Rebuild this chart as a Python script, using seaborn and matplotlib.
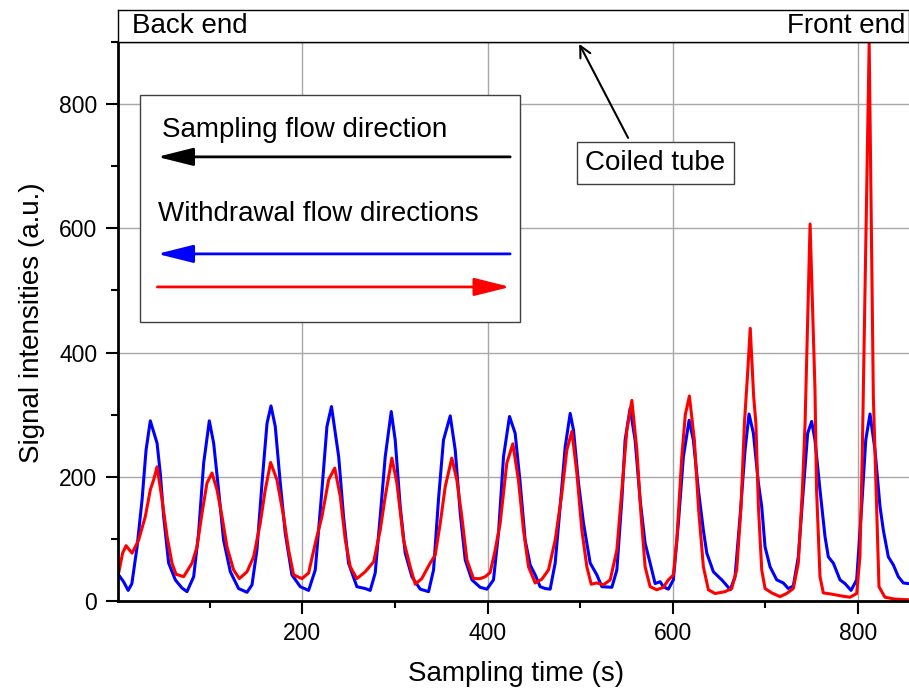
import matplotlib.pyplot as plt
import seaborn as sns
from matplotlib.patches import Rectangle
from matplotlib.ticker import MultipleLocator

# Signal (time in s, intensity in a.u.)
blue_time = [1.7, 7, 12, 16, 21.6, 27, 31.3, 35.9, 40.6, 43.2, 46.7, 50.3, 55.7, 62.9, 70, 75.5,
             82.7, 88, 93.5, 99.6, 104.3, 109.6, 115, 122.3, 131.2, 140.3, 145.7, 151, 156.5,
             161.9, 166.2, 170.8, 176.2, 181.6, 188.8, 197.8, 206.8, 214, 221.2, 226.6, 231.5,
             239.3, 244.5, 249.9, 258.9, 267.9, 273.3, 278.7, 284.1, 289.5, 296, 300.3, 305.7,
             311.1, 318.3, 327.3, 336.3, 341.7, 347, 352.4, 359.7, 365.1, 370.5, 375.9, 383.1,
             392, 399.3, 406.4, 411.8, 417.2, 423.7, 429.8, 435.2, 440.6, 446, 451.4, 456.8,
             462.2, 467.6, 473, 478.4, 483.8, 489.2, 492.8, 498.2, 503.6, 510.8, 518, 523.4,
             534.2, 539.6, 545, 548.5, 553.9, 559.3, 564.7, 570.1, 575.5, 580.9, 586.3, 589.8,
             595.2, 600.6, 606, 611.4, 617.6, 622.2, 627.6, 633, 636.7, 643.8, 652.8, 657,
             662, 667.2, 672.6, 678, 682.3, 687, 692.4, 696, 699.6, 705, 712.2, 719.3, 724.7,
             730.1, 735.5, 740.9, 745.6, 749.9, 753.5, 758.9, 764.3, 767.9, 773.3, 780.5,
             785.9, 792.4, 798.5, 803.9, 808.3, 812.9, 818.3, 823.7, 827.3, 832.7, 838.1,
             843.5, 848.9, 854.3]
blue_signal = [42, 31, 17, 28, 87, 163, 243, 290, 267, 254, 205, 136, 61, 34, 21, 15,
               39, 109, 222, 290, 254, 179, 98, 47, 20, 14, 26, 82, 190,
               286, 314, 281, 190, 109, 42, 23, 17, 50, 179, 281, 313,
               232, 136, 61, 23, 20, 17, 45, 136, 232, 305, 259, 152,
               77, 39, 19, 15, 50, 163, 259, 298, 243, 141, 66, 34,
               22, 19, 34, 109, 232, 297, 270, 190, 98, 58, 42, 23,
               20, 19, 61, 152, 248, 302, 275, 190, 125, 61, 42, 23,
               22, 50, 163, 259, 310, 259, 163, 93, 61, 28, 31, 23,
               19, 34, 125, 232, 291, 259, 179, 114, 77, 47, 34, 27,
               18, 39, 136, 243, 301, 270, 190, 152, 87, 55, 34, 29, 20,
               24, 71, 179, 270, 289, 259, 179, 104, 71, 61, 34,
               28, 17, 34, 152, 259, 301, 243, 152, 114, 71, 58,
               39, 29, 28]

red_time = [1.7, 6, 9.7, 16.2, 23.3, 30.5, 35.9, 39.5, 43.2, 48.6, 54, 59.3, 63.7, 71.9, 80.9,
            86.3, 91.7, 97.1, 102.5, 107.9, 113.3, 118.7, 125.8, 132, 140.3, 147.4, 154.6, 160,
            165.8, 172.6, 179.8, 185.2, 190.6, 199.6, 206.8, 214, 221.2, 228.4, 235, 241, 246.4,
            251.8, 258.9, 267.9, 277, 284.1, 289.5, 296.7, 302.1, 309.3, 316.5, 321.9, 329, 338,
            343.5, 348.9, 354.3, 361.4, 366.8, 372.2, 377.7, 384.8, 392, 397.4, 402.8, 408.2,
            413.6, 420.8, 427.3, 433.3, 438.8, 444.2, 451.4, 458.6, 465.8, 473, 480.2, 485.6,
            491, 496.4, 501.8, 507.2, 511.9, 518, 525.2, 532.4, 539.6, 545, 550.4, 555.8,
            561.2, 565.8, 570.1, 575.5, 582.7, 589.8, 595.2, 600.6, 604.3, 609.7, 613.5, 617.9,
            623.3, 627.6, 633, 638.4, 645.6, 656.4, 663.6, 669, 673.7, 677.3, 680.5, 683.6,
            687.3, 689.7, 692.4, 696, 699.6, 706.8, 715.7, 722.9, 730.1, 735.5, 739.9, 742.8,
            748.2, 753.5, 755.2, 758.9, 762.5, 771.5, 782.3, 791.3, 798.5, 802, 804.5, 812,
            816.5, 819.5, 822.6, 829, 839.8, 854.3]
red_signal = [45, 77, 89, 77, 98, 136, 179, 195, 216, 163, 104, 61, 43, 39, 61,
              87, 141, 190, 206, 179, 136, 87, 50, 36, 47, 71, 125, 179,
              223, 195, 136, 82, 42, 36, 45, 93, 136, 195, 214, 168, 98,
              55, 36, 47, 63, 114, 168, 230, 190, 98, 55, 27, 36, 61,
              74, 125, 184, 230, 195, 136, 66, 36, 36, 39, 46, 82,
              125, 222, 253, 195, 114, 55, 29, 35, 50, 98, 173, 243,
              273, 206, 114, 55, 27, 29, 26, 34, 82, 179, 275, 323,
              243, 136, 55, 23, 18, 22, 34, 42, 98, 232, 300, 330,
              259, 152, 55, 18, 12, 15, 20, 50, 152, 286, 360, 439,
              329, 286, 152, 50, 20, 13, 7, 12, 20, 61, 179, 286,
              607, 340, 179, 39, 13, 11, 8, 6, 12, 71, 232, 898,
              329, 180, 23, 6, 3, 2]

y_ticks = [0, 200, 400, 600, 800]
x_ticks = [200, 400, 600, 800]

sns.set_style('ticks')
plt.rcParams['font.family'] = ['Liberation Sans', 'DejaVu Sans']
plt.rcParams.update({'text.color': 'black', 'axes.labelcolor': 'black',
                     'xtick.color': 'black', 'ytick.color': 'black',
                     'axes.edgecolor': 'black'})

fig = plt.figure(figsize=(9.09, 6.88), dpi=100)
ax = fig.add_axes([0.1298, 0.1265, 0.8702, 0.8125])
strip = fig.add_axes([0.1298, 0.939, 0.8702, 0.0465])

sns.lineplot(x=blue_time, y=blue_signal, color='#0000ff', linewidth=2.2, ax=ax,
             estimator=None, sort=False, solid_joinstyle='round')
sns.lineplot(x=red_time, y=red_signal, color='#ff0000', linewidth=2.2, ax=ax,
             estimator=None, sort=False, solid_joinstyle='round')

ax.set_xlim(1, 855)
ax.set_ylim(0, 900)
ax.set_xticks(x_ticks)
ax.set_yticks(y_ticks)
ax.xaxis.set_minor_locator(MultipleLocator(100))
ax.yaxis.set_minor_locator(MultipleLocator(100))
ax.grid(True, which='major', color='#a8a8a8', linewidth=1)
ax.set_axisbelow(True)
ax.tick_params(which='major', direction='out', length=9, width=1.5, labelsize=16.5, pad=6)
ax.tick_params(which='minor', direction='out', length=5, width=1.5)
for side in ['left', 'bottom']:
    ax.spines[side].set_linewidth(2)
ax.spines['top'].set_linewidth(1)
ax.spines['right'].set_visible(False)

ax.set_xlabel('Sampling time (s)', fontsize=20)
ax.set_ylabel('Signal intensities (a.u.)', fontsize=20)
ax.xaxis.set_label_coords(0.503, -0.108)
ax.yaxis.set_label_coords(-0.092, 0.497)

# Direction box
ax.add_patch(Rectangle((25.1, 449.3), 410.1, 365.5, facecolor='white',
                       edgecolor='#404040', linewidth=1, zorder=3))
ax.text(48.9, 758.5, 'Sampling flow direction', fontsize=20, va='center', zorder=4)
ax.text(44.6, 623, 'Withdrawal flow directions', fontsize=20, va='center', zorder=4)
head = '-|>,head_length=1.0,head_width=0.25'
for y0, x_from, x_to, c in [(715, 424.4, 43.5, 'black'), (558.8, 424.4, 43.5, '#0000ff'),
                            (505.6, 43.5, 424.4, '#ff0000')]:
    ax.annotate('', xy=(x_to, y0), xytext=(x_from, y0), zorder=4,
                arrowprops=dict(arrowstyle=head, color=c, lw=2, mutation_scale=22,
                                shrinkA=0, shrinkB=0))

# Coiled tube label
ax.text(581, 705, 'Coiled tube', fontsize=20, ha='center', va='center', zorder=4,
        bbox=dict(boxstyle='square,pad=0.3', facecolor='white', edgecolor='#404040', lw=1))
ax.annotate('', xy=(498.9, 897), xytext=(551.7, 745.6), zorder=4,
            arrowprops=dict(arrowstyle='->', color='black', lw=1.5, mutation_scale=20,
                            shrinkA=0, shrinkB=0))

# Top strip with the tube ends
strip.set_xticks([])
strip.set_yticks([])
for s in strip.spines.values():
    s.set_linewidth(1)
    s.set_color('black')
strip.text(0.018, 0.5, 'Back end', fontsize=20, va='center', ha='left', transform=strip.transAxes)
strip.text(0.995, 0.5, 'Front end', fontsize=20, va='center', ha='right', transform=strip.transAxes)

fig.savefig('out.png', dpi=100)
